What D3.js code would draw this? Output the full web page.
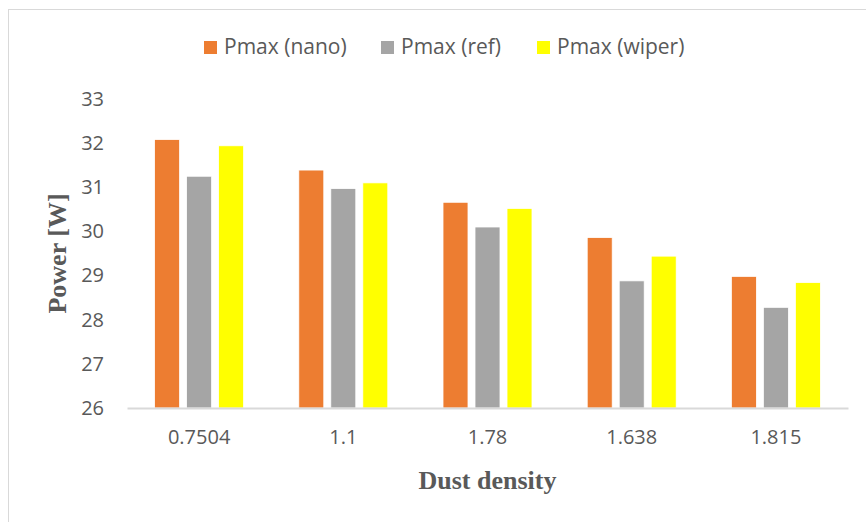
<!DOCTYPE html>
<html>
<head>
<meta charset="utf-8">
<script src="https://cdn.jsdelivr.net/npm/d3@7"></script>
<style>
  body { margin: 0; background: #fff; }
  svg { display: block; }
</style>
</head>
<body>
<svg id="chart" width="866" height="522"></svg>
<script>
// data
const categories = ['0.7504', '1.1', '1.78', '1.638', '1.815']
const seriesNames = ['Pmax (nano)', 'Pmax (ref)', 'Pmax (wiper)']
const nano = [32.08, 31.39, 30.66, 29.86, 28.98]
const ref = [31.25, 30.97, 30.10, 28.88, 28.28]
const wiper = [31.94, 31.10, 30.52, 29.44, 28.84]
const yTicks = [26, 27, 28, 29, 30, 31, 32, 33]
const colors = ['#ED7D31', '#A5A5A5', '#FFFF00']

const seriesValues = [nano, ref, wiper]
const rows = categories.map((c, i) => ({
  cat: c,
  values: seriesNames.map((s, k) => ({ name: s, value: seriesValues[k][i], color: colors[k] }))
}))

const svg = d3.select('#chart')
const textColor = '#595959'

// chart border (only left/top visible in the frame)
svg.append('rect')
  .attr('x', 8.5).attr('y', 9.5)
  .attr('width', 900).attr('height', 600)
  .attr('fill', 'none')
  .attr('stroke', '#d9d9d9')

const plot = { left: 127, right: 848, top: 99, bottom: 408 }

//scales
const x0 = d3.scaleBand()
  .domain(categories)
  .range([plot.left, plot.right])

const x1 = d3.scaleBand()
  .domain(seriesNames)
  .range([0, 96])
  .paddingInner(0.22)
  .paddingOuter(0.11)

const y = d3.scaleLinear()
  .domain([26, 33])
  .range([plot.bottom, plot.top])

// bars
const groups = svg.append('g')
  .selectAll('g')
  .data(rows)
  .join('g')
  .attr('transform', d => `translate(${x0(d.cat) + x0.bandwidth() / 2 - 48}, 0)`)

groups.selectAll('rect')
  .data(d => d.values)
  .join('rect')
  .attr('x', d => x1(d.name))
  .attr('y', d => y(d.value))
  .attr('width', x1.bandwidth())
  .attr('height', d => y(26) - y(d.value))
  .attr('fill', d => d.color)
  .attr('stroke', '#fff')
  .attr('stroke-width', 0.75)

// x axis
const xAxis = d3.axisBottom(x0).tickSize(0).tickPadding(22)
const xAxisGroup = svg.append('g')
  .attr('transform', `translate(0, ${plot.bottom})`)
  .call(xAxis)
xAxisGroup.select('.domain').attr('stroke', '#d9d9d9').attr('stroke-width', 2)
xAxisGroup.selectAll('text')
  .attr('fill', textColor)
  .style('font-family', '"Open Sans", sans-serif')
  .style('font-size', '20px')

// y axis (labels only)
const yAxis = d3.axisLeft(y).tickValues(yTicks).tickFormat(d3.format('d')).tickSize(0).tickPadding(0)
const yAxisGroup = svg.append('g')
  .attr('transform', `translate(104, 0)`)
  .call(yAxis)
yAxisGroup.select('.domain').remove()
yAxisGroup.selectAll('text')
  .attr('fill', textColor)
  .style('font-family', '"Open Sans", sans-serif')
  .style('font-size', '20px')

// axis titles
svg.append('text')
  .attr('x', (plot.left + plot.right) / 2)
  .attr('y', 489)
  .attr('text-anchor', 'middle')
  .attr('fill', textColor)
  .style('font-family', '"Liberation Serif", "Times New Roman", serif')
  .style('font-weight', 'bold')
  .style('font-size', '26px')
  .text('Dust density')

svg.append('text')
  .attr('transform', `translate(66, ${(plot.top + plot.bottom) / 2}) rotate(-90)`)
  .attr('text-anchor', 'middle')
  .attr('fill', textColor)
  .style('font-family', '"Liberation Serif", "Times New Roman", serif')
  .style('font-weight', 'bold')
  .style('font-size', '26px')
  .text('Power [W]')

// legend
const legendX = [204, 381, 537]
const legend = svg.append('g')
  .selectAll('g')
  .data(seriesNames)
  .join('g')
  .attr('transform', (d, i) => `translate(${legendX[i]}, 41)`)

legend.append('rect')
  .attr('width', 13).attr('height', 13)
  .attr('fill', (d, i) => colors[i])

legend.append('text')
  .attr('x', 20)
  .attr('y', 13)
  .attr('fill', textColor)
  .style('font-family', '"Open Sans", sans-serif')
  .style('font-size', '21px')
  .text(d => d)
</script>
</body>
</html>
